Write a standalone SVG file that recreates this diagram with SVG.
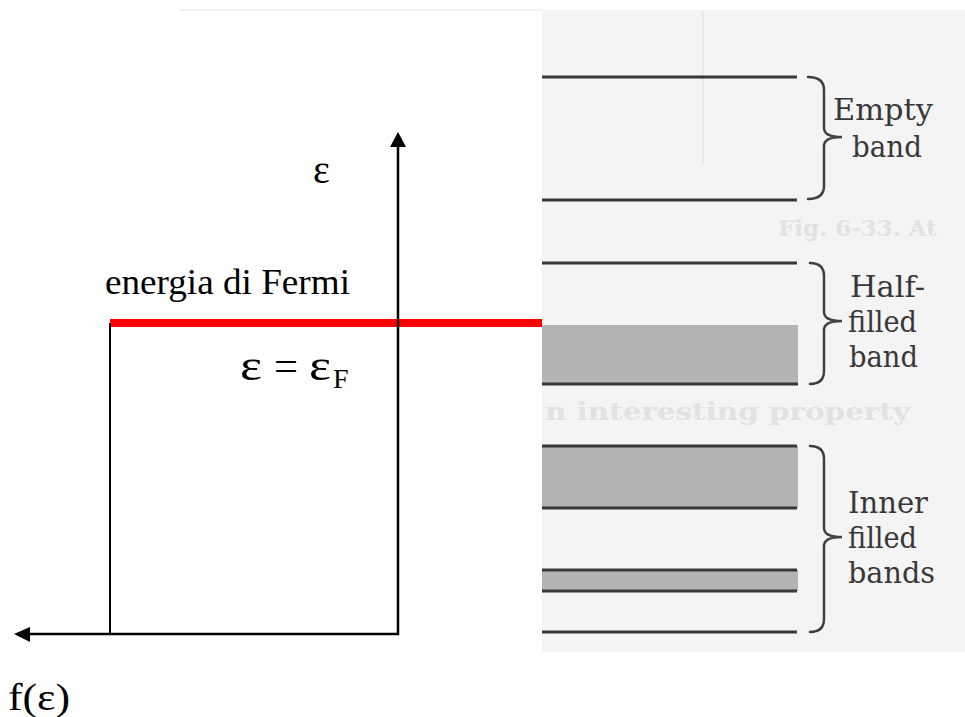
<svg xmlns="http://www.w3.org/2000/svg" width="965" height="717" viewBox="0 0 965 717">
<defs>
<style>
.lbl{font-family:"Liberation Serif","Times New Roman",serif;fill:#000}
.scan{font-family:"DejaVu Serif","Liberation Serif",serif;fill:#383838;font-size:29px}
.ghost{font-family:"DejaVu Serif","Liberation Serif",serif;font-weight:bold;fill:#e2e2e2}
.band{stroke:#383838;stroke-width:3;fill:none}
.fill{fill:#b4b4b4}
.brace{stroke:#404040;stroke-width:2.5;fill:none;stroke-linecap:round}
.ax{stroke:#000;fill:none}
</style>
</defs>
<rect width="965" height="717" fill="#fff"/>
<g id="scan">
<line x1="180" y1="10" x2="542" y2="10" stroke="#ececec" stroke-width="1.5"/>
<rect x="542" y="10" width="423" height="642" fill="#f4f4f4"/>
<line x1="703" y1="10" x2="703" y2="165" stroke="#e9e9e9" stroke-width="2"/>
<text class="ghost" x="778" y="236" font-size="23">Fig. 6-33. At</text>
<text class="ghost" x="545" y="420" font-size="25" textLength="365" lengthAdjust="spacingAndGlyphs">n interesting property</text>
</g>
<g id="empty-band">
<line class="band" x1="542" y1="77" x2="797" y2="77"/>
<line class="band" x1="542" y1="200" x2="797" y2="200"/>
<path class="brace" d="M808,77 Q824,77 824,90 L824,128 Q824,137 842,137 Q824,137 824,146 L824,186 Q824,199 808,199"/>
<text class="scan" x="833" y="120" textLength="100" lengthAdjust="spacingAndGlyphs">Empty</text>
<text class="scan" x="852" y="157" textLength="70" lengthAdjust="spacingAndGlyphs">band</text>
</g>
<g id="half-filled-band">
<rect class="fill" x="542" y="325" width="256" height="59"/>
<line class="band" x1="542" y1="263" x2="797" y2="263"/>
<line class="band" x1="542" y1="384" x2="798" y2="384"/>
<path class="brace" d="M810,263 Q824,263 824,276 L824,312 Q824,321 842,321 Q824,321 824,330 L824,371 Q824,384 810,384"/>
<text class="scan" x="850" y="297" textLength="75" lengthAdjust="spacingAndGlyphs">Half-</text>
<text class="scan" x="848" y="332" textLength="69" lengthAdjust="spacingAndGlyphs">filled</text>
<text class="scan" x="849" y="367" textLength="69" lengthAdjust="spacingAndGlyphs">band</text>
</g>
<g id="inner-filled-bands">
<rect class="fill" x="542" y="446" width="256" height="62"/>
<rect class="fill" x="542" y="570" width="256" height="21"/>
<line class="band" x1="542" y1="446" x2="797" y2="446"/>
<line class="band" x1="542" y1="508" x2="797" y2="508"/>
<line class="band" x1="542" y1="570" x2="797" y2="570"/>
<line class="band" x1="542" y1="591" x2="797" y2="591"/>
<line class="band" x1="542" y1="632" x2="797" y2="632"/>
<path class="brace" d="M810,446 Q824,446 824,459 L824,528 Q824,537 842,537 Q824,537 824,546 L824,619 Q824,632 810,632"/>
<text class="scan" x="848" y="513" textLength="80" lengthAdjust="spacingAndGlyphs">Inner</text>
<text class="scan" x="848" y="548" textLength="69" lengthAdjust="spacingAndGlyphs">filled</text>
<text class="scan" x="848" y="583" textLength="87" lengthAdjust="spacingAndGlyphs">bands</text>
</g>
<g id="fermi-level">
<line x1="110" y1="323" x2="542" y2="323" stroke="#ff0000" stroke-width="8"/>
<text class="lbl" x="105" y="294" font-size="36" textLength="245" lengthAdjust="spacingAndGlyphs">energia di Fermi</text>
<text class="lbl" x="240" y="380" font-size="44" textLength="22" lengthAdjust="spacingAndGlyphs">ε</text>
<text class="lbl" x="274" y="380" font-size="42" textLength="24" lengthAdjust="spacingAndGlyphs">=</text>
<text class="lbl" x="309" y="380" font-size="44" textLength="22" lengthAdjust="spacingAndGlyphs">ε</text>
<text class="lbl" x="333" y="388" font-size="28">F</text>
</g>
<g id="connectors">
<line class="ax" x1="110" y1="323" x2="110" y2="634" stroke-width="2"/>
<polyline class="ax" points="30,634 398,634 398,146" stroke-width="2.5"/>
<polygon points="398,132 390,147 406,147" fill="#000"/>
<polygon points="14,634 30,627 30,642" fill="#000"/>
</g>
<g id="axis-labels">
<text class="lbl" x="313" y="183" font-size="40">ε</text>
<text class="lbl" x="8" y="710" font-size="37" textLength="62" lengthAdjust="spacingAndGlyphs">f(ε)</text>
</g>
</svg>
